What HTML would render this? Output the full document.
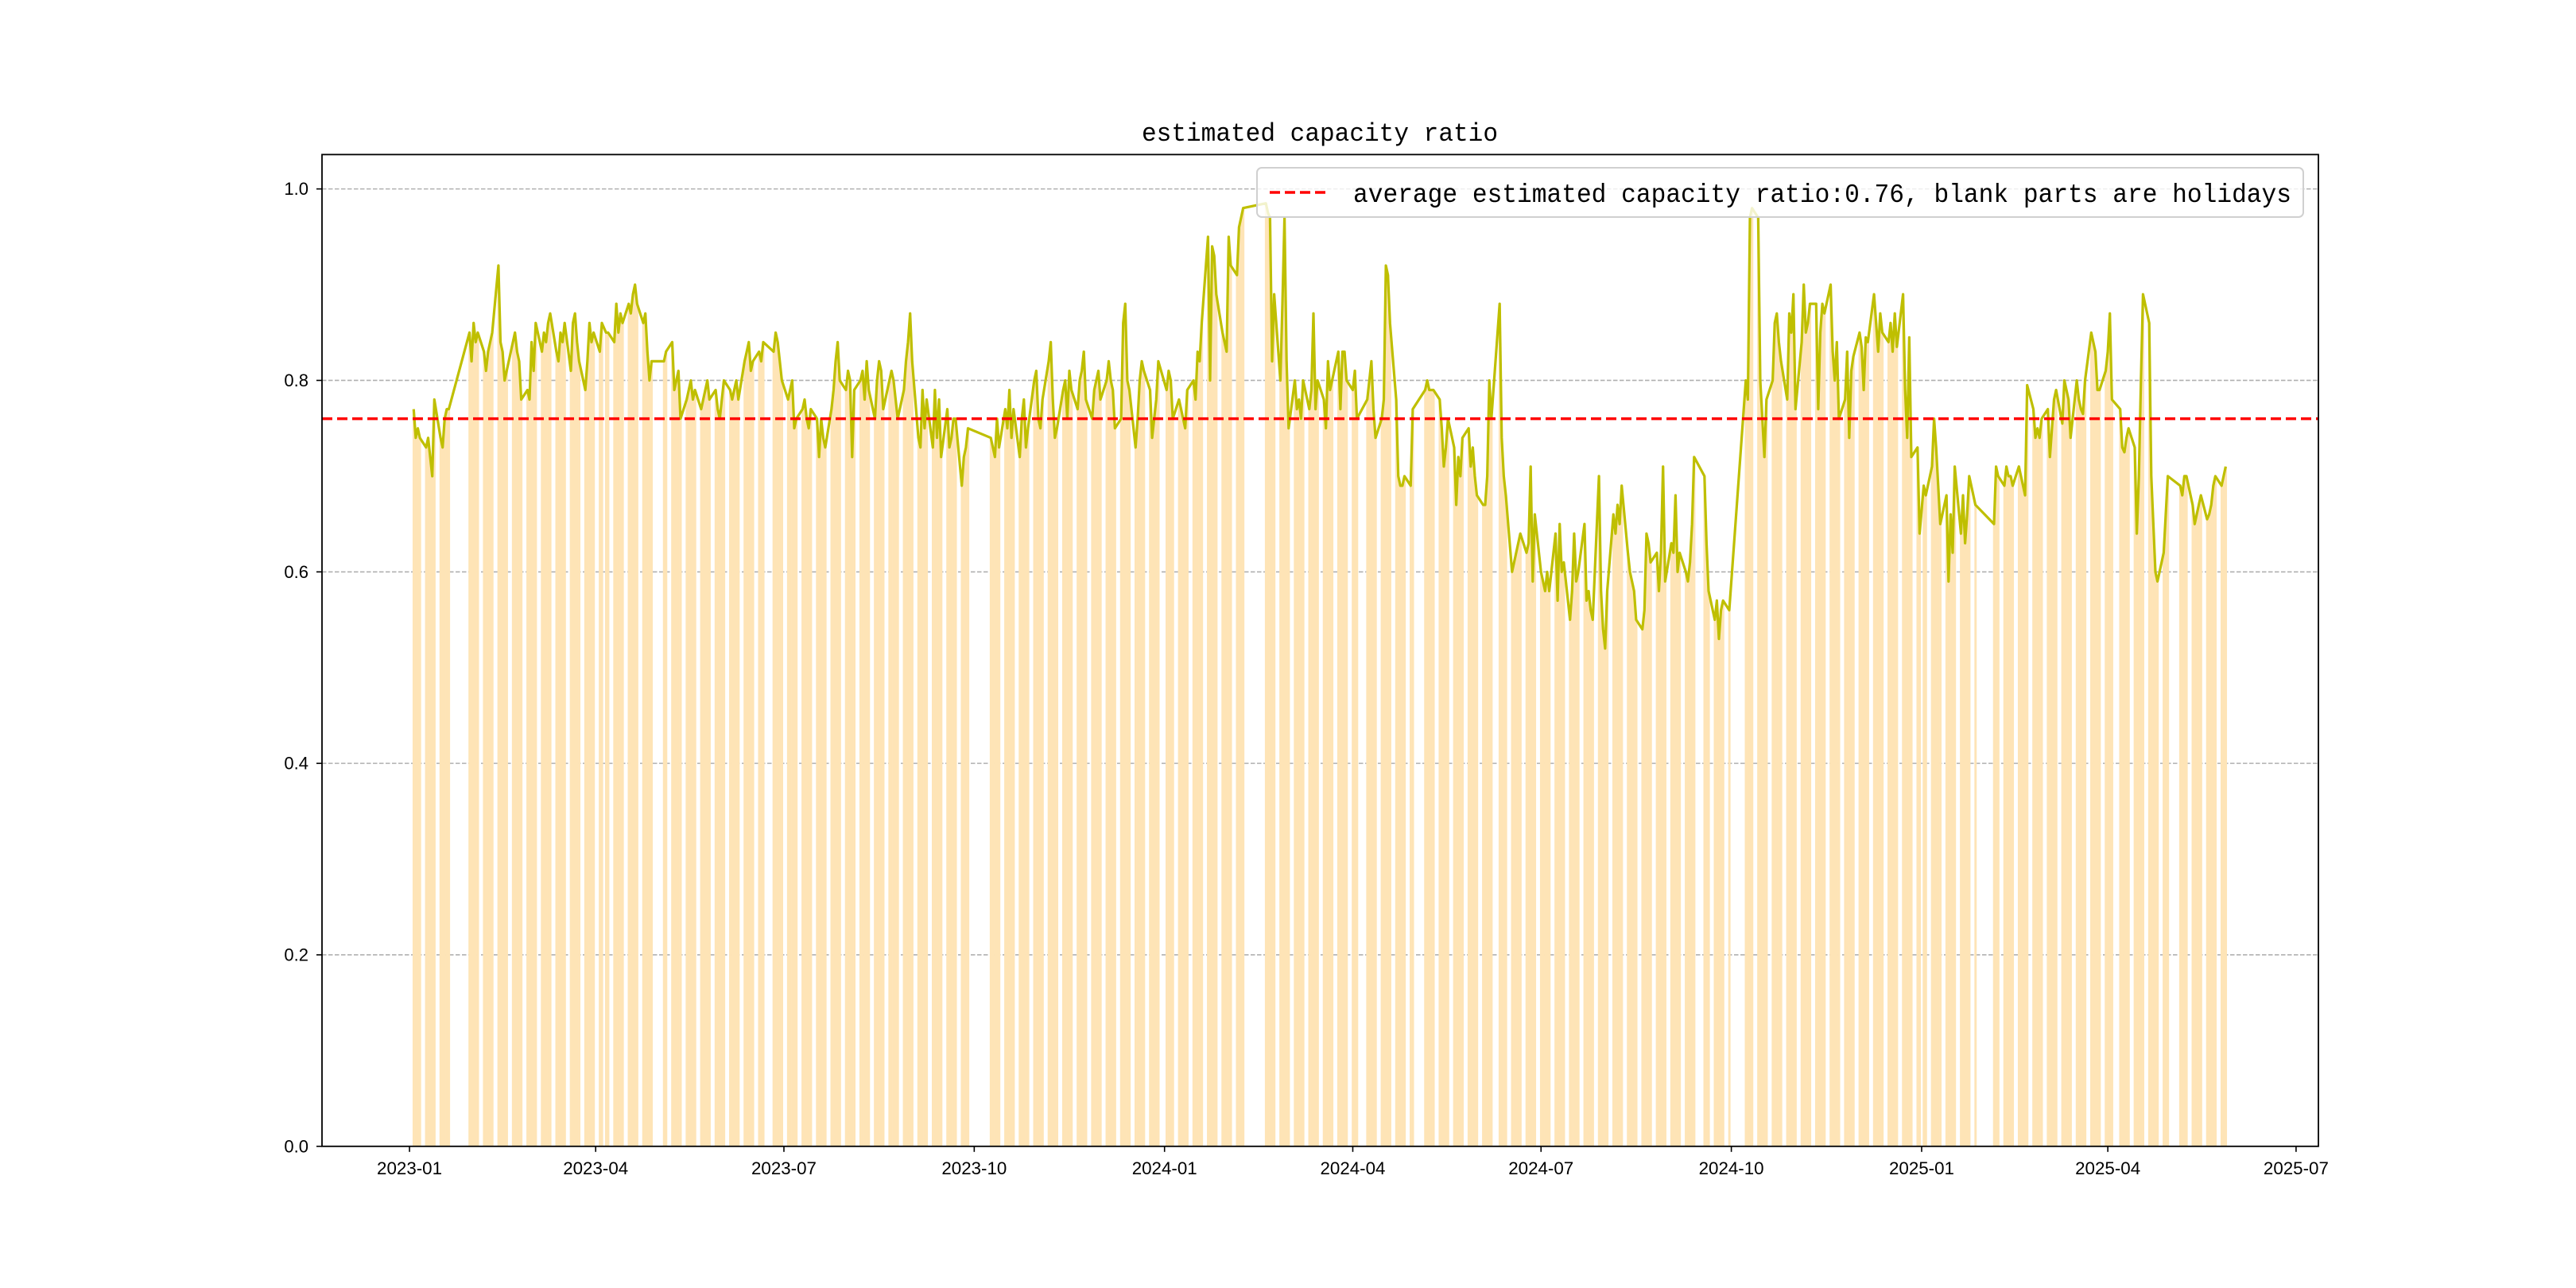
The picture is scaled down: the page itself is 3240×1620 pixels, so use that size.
<!DOCTYPE html>
<html><head><meta charset="utf-8">
<style>
html,body{margin:0;padding:0;background:#fff;}
svg{display:block;}
text{font-family:"Liberation Mono","WenQuanYi Zen Hei",monospace;fill:#000;}
.tick{font-family:"Liberation Sans","WenQuanYi Zen Hei",sans-serif;font-size:22px;}
</style></head>
<body>
<svg id="chart" width="3240" height="1620" viewBox="0 0 3240 1620" xmlns="http://www.w3.org/2000/svg">
<rect x="0" y="0" width="3240" height="1620" fill="#fff"/>
<text x="1660" y="177" font-size="32" text-anchor="middle" textLength="448" lengthAdjust="spacingAndGlyphs">estimated capacity ratio</text>
<g id="grid"></g>
<g id="bars"></g>
<g id="lines"></g>
<g id="axes"></g>
<g id="legend">
<rect x="1581" y="211" width="1316" height="62" rx="6" fill="#fff" fill-opacity="0.8" stroke="#d0d0d0" stroke-width="2"/>
<line x1="1597" y1="242" x2="1670" y2="242" stroke="#ff0000" stroke-width="3.5" stroke-dasharray="13,6"/>
<text x="1702" y="254" font-size="33" textLength="1180" lengthAdjust="spacingAndGlyphs">average estimated capacity ratio:0.76, blank parts are holidays</text>
</g>
</svg>
<script>
const NS='http://www.w3.org/2000/svg';
const holidays=['2023-01-02','2023-01-23','2023-01-24','2023-01-25','2023-01-26','2023-01-27','2023-04-05','2023-05-01','2023-05-02','2023-05-03','2023-06-22','2023-06-23','2023-09-29','2023-10-02','2023-10-03','2023-10-04','2023-10-05','2023-10-06','2024-01-01','2024-02-09','2024-02-12','2024-02-13','2024-02-14','2024-02-15','2024-02-16','2024-04-04','2024-04-05','2024-05-01','2024-05-02','2024-05-03','2024-06-10','2024-09-16','2024-09-17','2024-10-01','2024-10-02','2024-10-03','2024-10-04','2024-10-07','2025-01-01','2025-01-28','2025-01-29','2025-01-30','2025-01-31','2025-02-03','2025-02-04','2025-04-04','2025-05-01','2025-05-02','2025-05-05'];
const startDate='2023-01-03';
const v2023a=[.77,.74,.75,.74,.73,.74,.72,.70,.78,.74,.73,.76,.77,.77,
.85,.82,.86,.84,.85,.83,.81,.83,.84,.85,.92,.84,.83,.80,.81,.84,.85,.83,.82,.78,
.79,.78,.84,.81,.86,.83,.85,.84,.86,.87,.83,.82,.85,.84,.86,.81,.86,.87,.84,.82,.79,.82,.86,.84,.85,.83,.86,.85,
.85,.84,.88,.85,.87,.86,.88,.87,.89,.90,.88,.86,.87,.83,.80,.82,.82,.83,.84];
const v2023b=[.79,.80,.81,.76,.78,.79,.80,.78,.79,.77,.78,.79,.80,.78,.79,.77,.76,.78,.80,.79,
.78,.79,.80,.78,.82,.83,.84,.81,.82,.83,.82,.84,.83,.85,.84,.82,.80,.78,.79,.80,
.75,.76,.77,.78,.76,.75,.77,.76,.72,.76,.74,.73,.77,.79,.82,.84,.80,.79,.81,.80,.72,
.79,.80,.81,.78,.82,.79,.76,.80,.82,.81,.77,.80,.81,.80,.78,.76,.79,.82,.84,.87,.82,.74,.73];
const v2023c=[.79,.75,.78,.73,.79,.74,.78,.72,.77,.73,.74,.76,.76,.69,.72,.73,.75,.74,.73,.72,
.76,.73,.77,.75,.79,.74,.77,.72,.76,.78,.73,.75,.80,.81,.76,.75,.78,
.82,.84,.78,.74,.75,.79,.80,.76,.81,.79,.77,.80,.81,.83,.78,.76,.79,.80,.81,.78,.80,.82,
.80,.79,.75,.76,.86,.88,.80,.79,.73,.76,.80,.82,.81,.79,.74,.76,.78,.82,.79,.81,.80];
const v2024a=[.76,.78,.77,.76,.75,.79,.80,.78,.83,.82,.86,.95,.80,.94,.93,.89,.85,.84,.83,.95,.92,.91,
.96,.97,.98,.985,.975,.97,
.82,.89,.80,.88,.97,.82,.75,.80,.77,
.78,.76,.80,.77,.79,.87,.77,.80,.78,.75,.82,.79,.80,.83,.77,.83,.83,.80,.79,.81,.76,
.78,.80,.82,.77,.74,.76,.78,.92,.91,.86,.78,.70,.69,.69,.70,.69,.77,.79,.80,.79];
const v2024b=[.79,.79,.78,.75,.71,.73,.76,.73,.67,.72,.70,.74,.75,.71,.73,.70,.68,.67,.67,.70,
.80,.76,.88,.74,.70,.68,.60,.61,.62,.63,.64,.62,.63,.71,.59,.66,.60,.59,.58,
.60,.58,.64,.57,.65,.60,.61,.55,.58,.64,.59,.60,.65,.57,.58,.56,.55,.70,.58,.54,.52,.58,.66,
.64,.67,.65,.69,.62,.60,.59,.58,.55,.54,.56,.64,.63,.61,.62,.58,.62,.71,.59,.63,.62,.68];
const v2024c=[.60,.62,.60,.59,.61,.65,.72,.70,.63,.58,.55,.57,.53,.56,.57,.56,.80,.78,.97,
.98,.97,.80,.76,.72,.78,.80,.86,.87,.84,.82,.78,.87,.85,.89,.77,.84,.90,.85,.86,.88,
.88,.77,.85,.88,.87,.90,.83,.80,.84,.76,.78,.83,.74,.81,.825,.85,.835,.79,.845,.84,.89,.86,.83,.87,.85,.84,.86,
.83,.87,.835,.89,.79,.74,.845,.72,.73,.64,.69,.68,.71,.76,.73,.69,.65,.68,.59,.66,.62,.71];
const v2025=[.64,.68,.63,.66,.70,.67,.65,.71,.70,.69,.71,.70,.70,.69,.71,.70,.69,.68,
.795,.77,.74,.75,.74,.76,.77,.72,.75,.78,.79,.755,.80,.79,.78,.74,.80,.78,
.77,.765,.80,.85,.84,.83,.79,.79,.81,.83,.87,.78,.77,.73,.725,.74,.75,.73,.64,.70,.80,
.89,.86,.70,.65,.60,.59,.62,.66,.70,.69,.68,.70,
.70,.67,.65,.66,.67,.68,.655,.66,.67,.69,.70,.69,.70,.71];
const avgValue=0.76;
const yTicks=[0,0.2,0.4,0.6,0.8,1.0];
const yTickLabels=['0.0','0.2','0.4','0.6','0.8','1.0'];
const xTickLabels=['2023-01','2023-04','2023-07','2023-10','2024-01','2024-04','2024-07','2024-10','2025-01','2025-04','2025-07'];

const values=[].concat(v2023a,v2023b,v2023c,v2024a,v2024b,v2024c,v2025);
const L=405,R=2916,T=194.4,B=1441.8;
const DAY=86400000, base=Date.UTC(2023,0,1);
const xMin=-42.3, xMax=922.8, yMax=1.0359;
function dayOf(s){const p=s.split('-');return (Date.UTC(+p[0],+p[1]-1,+(p[2]||1))-base)/DAY;}
function xs(d){return L+(d-xMin)/(xMax-xMin)*(R-L);}
function ys(v){return B-v/yMax*(B-T);}
const hol=new Set(holidays);
const days=[];
let d=dayOf(startDate);
while(days.length<values.length){
  const dt=new Date(base+d*DAY);const wd=dt.getUTCDay();
  const iso=dt.toISOString().slice(0,10);
  if(wd!==0&&wd!==6&&!hol.has(iso))days.push(d);
  d++;
}
const g=id=>document.getElementById(id);
function el(tag,attrs,parent){const e=document.createElementNS(NS,tag);for(const k in attrs)e.setAttribute(k,attrs[k]);parent.appendChild(e);return e;}
yTicks.forEach((v,i)=>{if(v===0)return;
  const ln=el('line',{x1:L,x2:R,y1:ys(v),y2:ys(v),stroke:'#b0b0b0','stroke-width':1.6,'stroke-dasharray':'5.5,2.5'},g('grid'));
  
  
});
const bw=(R-L)/(xMax-xMin);
values.forEach((v,i)=>{
  const r=el('rect',{x:xs(days[i])-bw/2,y:ys(v),width:bw+0.3,height:B-ys(v),fill:'#fee4b6'},g('bars'));
  
  
});
const pts=values.map((v,i)=>xs(days[i]).toFixed(1)+','+ys(v).toFixed(1)).join(' ');
const pl=el('polyline',{points:pts,fill:'none',stroke:'#bfbf00','stroke-width':3.2,'stroke-linejoin':'round'},g('lines'));


const av=el('line',{x1:L,x2:R,y1:ys(avgValue),y2:ys(avgValue),stroke:'#ff0000','stroke-width':3.5,'stroke-dasharray':'13,6'},g('lines'));


const ax=g('axes');
const fr=el('rect',{x:L,y:T,width:R-L,height:B-T,fill:'none',stroke:'#000','stroke-width':1.8},ax);


yTicks.forEach((v,i)=>{
  el('line',{x1:L-7,x2:L,y1:ys(v),y2:ys(v),stroke:'#000','stroke-width':1.6},ax);
  const t=el('text',{x:L-17,y:ys(v)+7.5,'text-anchor':'end',class:'tick'},ax);
  t.textContent=yTickLabels[i];
  
  
});
xTickLabels.forEach(s=>{
  const x=xs(dayOf(s));
  el('line',{x1:x,x2:x,y1:B,y2:B+7,stroke:'#000','stroke-width':1.6},ax);
  const t=el('text',{x:x,y:B+35,'text-anchor':'middle',class:'tick',textLength:82,lengthAdjust:'spacingAndGlyphs'},ax);
  t.textContent=s;
  
  
});
</script>
</body></html>
